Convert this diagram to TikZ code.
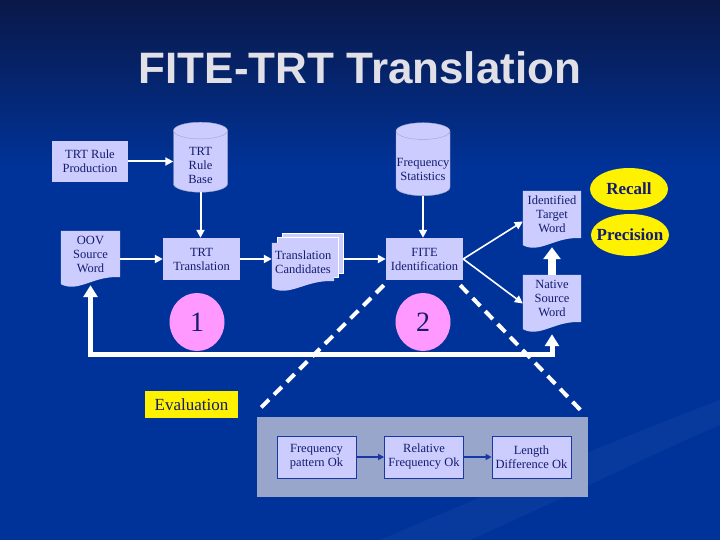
\documentclass[tikz,border=0pt]{standalone}
\usepackage{fontspec}
\setmainfont{Liberation Serif}
\newfontfamily\titlefont{Liberation Sans}
\usetikzlibrary{shapes.geometric,arrows.meta,calc}

\definecolor{slidebg}{RGB}{0,51,153}
\definecolor{slidetop}{RGB}{10,24,72}
\definecolor{lav}{RGB}{204,204,255}
\definecolor{ink}{RGB}{20,28,110}
\definecolor{edgeblue}{RGB}{25,55,165}
\definecolor{pinkish}{RGB}{255,153,255}
\definecolor{panelgray}{RGB}{152,166,204}
\definecolor{titlegray}{RGB}{224,224,230}

\pgfdeclarelayer{bg}
\pgfdeclarelayer{docs}
\pgfsetlayers{bg,docs,main}

\newcommand\docfill[1]{%
  \begin{pgfonlayer}{docs}
    \fill[lav] (#1.north west) -- (#1.north east) -- (#1.south east)
      .. controls ($(#1.south west)!0.55!(#1.south east)+(0,-2)$) and ($(#1.south west)!0.3!(#1.south east)+(0,16)$)
      .. ($(#1.south west)+(0,7)$) -- cycle;
  \end{pgfonlayer}}

\begin{document}
\begin{tikzpicture}[x=1pt,y=-1pt,
    box/.style={rectangle, fill=lav, text=ink, align=center, inner sep=0pt,
      minimum width=77pt, minimum height=42pt, font=\fontsize{12.5}{14}\selectfont},
    doc/.style={box, fill=none, minimum width=59pt, minimum height=46pt},
    sheet/.style={rectangle, fill=lav, draw=white, line width=0.6pt, minimum width=61pt, minimum height=40pt},
    dbase/.style={cylinder, shape border rotate=90, aspect=0.31, draw=ink!40, fill=lav, inner sep=0pt,
      text width=54pt, minimum height=70pt},
    dbtext/.style={text=ink, align=center, inner sep=0pt, font=\fontsize{12.5}{14}\selectfont},
    flow/.style={white, line width=2pt, -{Triangle[length=8pt,width=8pt]}},
    oval/.style={ellipse, fill=yellow, text=ink, inner ysep=0pt, inner xsep=-12pt, minimum width=78pt, minimum height=42pt,
      font=\bfseries\fontsize{17}{20}\selectfont},
    stage/.style={ellipse, fill=pinkish, text=ink, inner sep=0pt, minimum width=55pt, minimum height=58pt,
      font=\fontsize{28}{30}\selectfont},
    check/.style={box, draw=edgeblue, line width=0.8pt, minimum width=79pt, minimum height=42pt}]
\useasboundingbox (0,0) rectangle (720,540);
\begin{pgfonlayer}{bg}
  \fill[slidebg] (0,0) rectangle (720,540);
  \shade[top color=slidetop, bottom color=slidebg] (0,0) rectangle (720,170);
  \fill[white, opacity=0.03] (380,540) .. controls (520,480) and (640,430) .. (720,400)
    -- (720,425) .. controls (650,455) and (560,500) .. (470,540) -- cycle;
\end{pgfonlayer}

\node[font=\titlefont\bfseries\fontsize{44}{50}\selectfont, text=titlegray] (title) at (360,68) {FITE-TRT Translation};

\node[box, minimum width=76pt, minimum height=41pt] (prod) at (90,161.5) {TRT Rule\\Production};
\node[dbase, label={[dbtext, yshift=-3.5pt]center:{TRT\\Rule\\Base}}] (rbase) at (200.5,161.5) {};
\node[dbase, minimum height=73pt, label={[dbtext, yshift=-5.5pt]center:{Frequency\\Statistics}}] (freq) at (423,163.5) {};
\node[doc] (oov) at (90.5,254) {OOV\\Source\\Word};
\node[box] (trt) at (201.5,259) {TRT\\Translation};
\begin{pgfonlayer}{docs}
  \node[sheet] (cand3) at (312.5,253) {};
  \node[sheet] (cand2) at (307.5,257) {};
\end{pgfonlayer}
\node[doc, minimum width=62pt, minimum height=38pt] (cand) at (303,262) {Translation\\Candidates};
\node[box] (fite) at (424.5,259) {FITE\\Identification};
\node[doc, minimum width=58pt, minimum height=47pt] (itw) at (552,214.5) {Identified\\Target\\Word};
\node[doc, minimum width=58pt, minimum height=47pt] (nsw) at (552,298.5) {Native\\Source\\Word};
\foreach \n in {oov,cand,itw,nsw} {\docfill{\n}}

\node[oval] (recall) at (629,189) {Recall};
\node[oval] (prec) at (630,235) {Precision};
\node[stage] (one) at (197,322) {1};
\node[stage] (two) at (423,322) {2};

\node[fill=yellow, text=ink, inner sep=0pt, minimum width=93pt, minimum height=27pt,
  font=\fontsize{17}{20}\selectfont] (eval) at (191.5,404.5) {Evaluation};
\node[fill=panelgray, minimum width=331pt, minimum height=80pt] (panel) at (422.5,457) {};
\foreach \n/\x/\t in {fp/316.5/{Frequency\\pattern Ok}, rf/424/{Relative\\Frequency Ok}, ld/531.5/{Length\\Difference Ok}}
  \node[check] (\n) at (\x,457) {\t};
\draw[edgeblue, line width=1.5pt, -{Triangle[length=6pt,width=6pt]}] (fp) -- (rf);
\draw[edgeblue, line width=1.5pt, -{Triangle[length=6pt,width=6pt]}] (rf) -- (ld);

\draw[flow] (prod) -- (rbase);
\draw[flow] (rbase.south) -- (rbase.south |- trt.north);
\draw[flow] (oov.east |- trt) -- (trt.west);
\draw[flow] (trt) -- (cand.west |- trt);
\draw[flow] (cand3.east |- fite) -- (fite.west);
\draw[flow] (freq.south) -- (freq.south |- fite.north);
\draw[flow, line width=1.6pt] (fite.east) -- ([yshift=-7pt]itw.west);
\draw[flow, line width=1.6pt] (fite.east) -- ([yshift=-5pt]nsw.west);
\draw[white, line width=8pt, -{Triangle[length=12pt,width=17pt]}] (nsw.north) -- ([yshift=-9pt]itw.south);
\draw[white, line width=5pt, {Triangle[length=12pt,width=14pt]}-{Triangle[length=12pt,width=14pt]}]
  ([yshift=-8pt]oov.south) -- ++(0,69) -| ([yshift=-12pt]nsw.south);

\draw[white, line width=4pt, dash pattern=on 11pt off 7pt] ([xshift=-2pt,yshift=-5pt]fite.south west) -- ([yshift=5pt]panel.north west);
\draw[white, line width=4pt, dash pattern=on 11pt off 7pt] ([xshift=-3pt,yshift=-5pt]fite.south east) -- ([xshift=-6pt,yshift=5pt]panel.north east);
\end{tikzpicture}
\end{document}
